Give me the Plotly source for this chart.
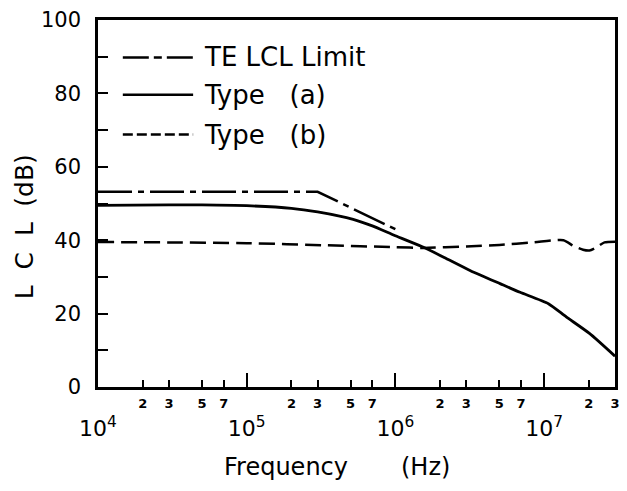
import math
import plotly.graph_objects as go

# ---- data ----
freq_te = [1e4, 3e5, 1e6]
lcl_te = [53.2, 53.2, 43.0]

freq_a = [1e4, 3e4, 5e4, 1e5, 2e5, 3e5, 5.2e5, 7e5, 1e6, 1.56e6, 2.13e6,
          3.2e6, 5.1e6, 6.9e6, 1.07e7, 1.41e7, 2.02e7, 3e7]
lcl_a = [49.5, 49.6, 49.6, 49.4, 48.7, 47.7, 45.7, 43.9, 41.2, 38.0, 35.3,
         31.7, 28.1, 25.8, 22.7, 19.1, 14.6, 8.4]

freq_b = [1e4, 3e4, 1e5, 3.5e5, 1e6, 1.56e6, 3e6, 5e6, 8.5e6, 1.35e7,
          1.57e7, 1.83e7, 2.02e7, 2.24e7, 2.55e7, 3e7]
lcl_b = [39.5, 39.4, 39.2, 38.6, 38.1, 37.9, 38.3, 38.7, 39.4, 40.0,
         38.5, 37.4, 37.2, 38.0, 39.4, 39.6]

decade_vals = [1e4, 1e5, 1e6, 1e7]
decade_text = ["10<sup>4</sup>", "10<sup>5</sup>", "10<sup>6</sup>", "10<sup>7</sup>"]
minor_vals = [2e4, 3e4, 5e4, 7e4, 2e5, 3e5, 5e5, 7e5, 2e6, 3e6, 5e6, 7e6, 2e7, 2.999e7]
minor_text = ["2", "3", "5", "7", "2", "3", "5", "7", "2", "3", "5", "7", "2", "3"]
y_label_vals = [0, 20, 40, 60, 80, 100]
y_label_text = ["0", "20", "40", "60", "80", "100"]

legend_names = ["TE LCL Limit", "Type\u00a0\u00a0 (a)", "Type\u00a0\u00a0 (b)"]

FONT = "DejaVu Sans"
X_RANGE = [4, math.log10(3e7) + 1e-4]

fig = go.Figure()
fig.add_trace(go.Scatter(x=freq_te, y=lcl_te, mode="lines", name=legend_names[0],
                         line=dict(color="black", width=2.5, dash="34px,6px,6px,6px")))
fig.add_trace(go.Scatter(x=freq_a, y=lcl_a, mode="lines", name=legend_names[1],
                         line=dict(color="black", width=2.8, shape="spline", smoothing=0.6)))
fig.add_trace(go.Scatter(x=freq_b, y=lcl_b, mode="lines", name=legend_names[2],
                         line=dict(color="black", width=2.5, dash="16px,7px",
                                   shape="spline", smoothing=0.6)))
# invisible trace to carry the minor-tick axis
fig.add_trace(go.Scatter(x=[freq_a[0], freq_a[-1]], y=[0, 0], xaxis="x2", mode="markers",
                         marker=dict(opacity=0), showlegend=False, hoverinfo="skip"))

# manual legend
legend_y = [0.898, 0.796, 0.688]
legend_dash = ["26px,5px,8px,5px", "solid", "10px,4px"]
for name, yy, dsh in zip(legend_names, legend_y, legend_dash):
    fig.add_shape(type="line", xref="paper", yref="paper", x0=0.048, x1=0.184, y0=yy, y1=yy,
                  line=dict(color="black", width=2.5, dash=dsh))
    fig.add_annotation(xref="paper", yref="paper", x=0.2015, y=yy, xanchor="left",
                       yanchor="middle", text=name, showarrow=False,
                       font=dict(family=FONT, size=26, color="black"))

# axis titles
fig.add_annotation(xref="paper", yref="paper", x=(287 - 98) / 521, y=(387 - 467) / 369,
                   text="Frequency", showarrow=False, xanchor="center", yanchor="middle",
                   font=dict(family=FONT, size=24, color="black"))
fig.add_annotation(xref="paper", yref="paper", x=(428 - 98) / 521, y=(387 - 467) / 369,
                   text="(Hz)", showarrow=False, xanchor="center", yanchor="middle",
                   font=dict(family=FONT, size=24, color="black"))
fig.add_annotation(xref="paper", yref="paper", x=(24 - 98) / 521, y=(387 - 260) / 369,
                   text="L\u00a0\u00a0C\u00a0\u00a0L", textangle=-90, showarrow=False,
                   xanchor="center", yanchor="middle",
                   font=dict(family=FONT, size=25, color="black"))
fig.add_annotation(xref="paper", yref="paper", x=(24 - 98) / 521, y=(387 - 179) / 369,
                   text="(dB)", textangle=-90, showarrow=False,
                   xanchor="center", yanchor="middle",
                   font=dict(family=FONT, size=25, color="black"))

fig.update_layout(
    width=627, height=491,
    margin=dict(l=98, r=8, t=18, b=104),
    paper_bgcolor="white", plot_bgcolor="white",
    showlegend=False,
    font=dict(family=FONT, color="black"),
    xaxis=dict(type="log", range=X_RANGE, showgrid=False, zeroline=False,
               showline=True, linecolor="black", linewidth=2.5, mirror=True,
               ticks="inside", ticklen=14, tickwidth=2, tickcolor="black",
               tickmode="array", tickvals=decade_vals, ticktext=decade_text,
               ticklabelstandoff=20, tickfont=dict(family=FONT, size=22, color="black")),
    xaxis2=dict(type="log", range=X_RANGE, overlaying="x", anchor="y", side="bottom",
                showgrid=False, zeroline=False, showline=False,
                ticks="inside", ticklen=7, tickwidth=2, tickcolor="black",
                tickmode="array", tickvals=minor_vals, ticktext=minor_text,
                ticklabelstandoff=7,
                tickfont=dict(family=FONT, size=13, color="black", weight="bold")),
    yaxis=dict(range=[0, 100], showgrid=False, zeroline=False,
               showline=True, linecolor="black", linewidth=2.5, mirror=True,
               ticks="inside", ticklen=10, tickwidth=2, tickcolor="black",
               tickmode="array", tickvals=y_label_vals, ticktext=y_label_text,
               minor=dict(ticks="inside", ticklen=10, tickwidth=2, tickcolor="black",
                          dtick=10, showgrid=False),
               ticklabelstandoff=10, tickfont=dict(family=FONT, size=21, color="black")),
)

fig.write_html("out.html", config={"displayModeBar": False},
               post_script="document.body.style.margin='0px';")
